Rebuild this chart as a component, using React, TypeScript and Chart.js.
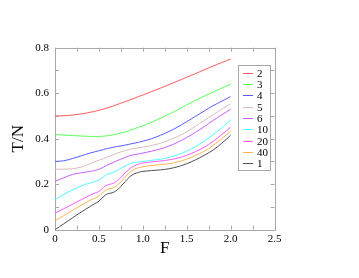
import React, { useEffect, useRef } from 'react';
import { Chart, registerables } from 'chart.js';
Chart.register(...registerables);

const F = [0, 0.1, 0.2, 0.3, 0.35, 0.4, 0.45, 0.5, 0.55, 0.6, 0.65, 0.7, 0.75, 0.8, 0.85, 0.9, 0.95, 1.0, 1.1, 1.2, 1.3, 1.4, 1.5, 1.6, 1.7, 1.8, 1.9, 2.0];

const seriesLabels = ['2', '3', '4', '5', '6', '10', '20', '40', '1'];

const s2 = [0.5, 0.501, 0.504, 0.509, 0.512, 0.516, 0.52, 0.525, 0.53, 0.536, 0.542, 0.549, 0.556, 0.563, 0.57, 0.577, 0.585, 0.592, 0.607, 0.622, 0.638, 0.654, 0.67, 0.686, 0.703, 0.719, 0.735, 0.75];
const s3 = [0.418, 0.416, 0.414, 0.412, 0.411, 0.41, 0.41, 0.41, 0.411, 0.413, 0.416, 0.42, 0.425, 0.43, 0.436, 0.443, 0.45, 0.457, 0.472, 0.49, 0.508, 0.528, 0.548, 0.568, 0.587, 0.605, 0.622, 0.64];
const s4 = [0.3, 0.303, 0.313, 0.325, 0.331, 0.337, 0.342, 0.347, 0.352, 0.357, 0.361, 0.365, 0.368, 0.372, 0.376, 0.38, 0.384, 0.389, 0.4, 0.415, 0.432, 0.452, 0.475, 0.498, 0.522, 0.545, 0.565, 0.585];
const s5 = [0.266, 0.266, 0.268, 0.275, 0.282, 0.29, 0.298, 0.305, 0.312, 0.32, 0.328, 0.335, 0.342, 0.348, 0.353, 0.357, 0.36, 0.363, 0.37, 0.38, 0.395, 0.41, 0.43, 0.455, 0.48, 0.505, 0.53, 0.553];
const s6 = [0.213, 0.228, 0.243, 0.25, 0.253, 0.256, 0.26, 0.265, 0.275, 0.285, 0.293, 0.302, 0.31, 0.318, 0.325, 0.33, 0.333, 0.337, 0.345, 0.355, 0.368, 0.385, 0.405, 0.428, 0.453, 0.48, 0.505, 0.53];
const s10 = [0.132, 0.155, 0.175, 0.192, 0.2, 0.205, 0.212, 0.218, 0.232, 0.244, 0.25, 0.258, 0.27, 0.28, 0.29, 0.295, 0.298, 0.3, 0.305, 0.31, 0.318, 0.33, 0.345, 0.365, 0.39, 0.417, 0.448, 0.483];
const s20 = [0.073, 0.092, 0.112, 0.132, 0.142, 0.152, 0.16, 0.168, 0.185, 0.197, 0.202, 0.212, 0.23, 0.25, 0.268, 0.28, 0.288, 0.293, 0.298, 0.302, 0.307, 0.315, 0.327, 0.343, 0.363, 0.388, 0.418, 0.45];
const s40 = [0.04, 0.062, 0.085, 0.108, 0.118, 0.13, 0.138, 0.148, 0.165, 0.178, 0.182, 0.192, 0.21, 0.232, 0.252, 0.265, 0.272, 0.277, 0.282, 0.286, 0.29, 0.298, 0.31, 0.326, 0.345, 0.37, 0.4, 0.433];
const s1 = [0, 0.026, 0.052, 0.078, 0.09, 0.102, 0.114, 0.125, 0.145, 0.158, 0.162, 0.172, 0.19, 0.212, 0.232, 0.245, 0.252, 0.256, 0.26, 0.263, 0.268, 0.277, 0.29, 0.307, 0.327, 0.35, 0.38, 0.415];

const colors = ['#ff5a5a', '#5aff5a', '#5a5aff', '#dcbcbc', '#c860ff', '#50ffff', '#ff5aff', '#ffb450', '#505050'];

const xTickValues = [0, 0.25, 0.5, 0.75, 1, 1.25, 1.5, 1.75, 2, 2.25, 2.5];
const yTickValues = [0, 0.1, 0.2, 0.3, 0.4, 0.5, 0.6, 0.7, 0.8];

const SERIF = "'Liberation Serif', 'Times New Roman', serif";
const FRAME = '#a8a8a8';

const framePlugin = {
  id: 'frame',
  beforeDatasetsDraw(chart: any) {
    const { ctx, chartArea: a, scales } = chart;
    ctx.save();
    ctx.strokeStyle = FRAME;
    ctx.lineWidth = 1;
    ctx.strokeRect(Math.round(a.left) + 0.5, Math.round(a.top) + 0.5, Math.round(a.right - a.left), Math.round(a.bottom - a.top));
    ctx.beginPath();
    const L = 4;
    xTickValues.forEach((v) => {
      const px = Math.round(scales.x.getPixelForValue(v)) + 0.5;
      ctx.moveTo(px, a.bottom); ctx.lineTo(px, a.bottom - L);
      ctx.moveTo(px, a.top); ctx.lineTo(px, a.top + L);
    });
    yTickValues.forEach((v) => {
      const py = Math.round(scales.y.getPixelForValue(v)) + 0.5;
      ctx.moveTo(a.left, py); ctx.lineTo(a.left + L, py);
      ctx.moveTo(a.right, py); ctx.lineTo(a.right - L, py);
    });
    ctx.stroke();
    ctx.restore();
  },
};

const legendPlugin = {
  id: 'boxLegend',
  afterDraw(chart: any) {
    const ctx = chart.ctx;
    ctx.save();
    const x0 = 238.5, y0 = 65.5, w = 32, h = 105;
    ctx.fillStyle = '#fff';
    ctx.fillRect(x0, y0, w, h);
    ctx.strokeStyle = FRAME;
    ctx.lineWidth = 1;
    ctx.strokeRect(x0, y0, w, h);
    ctx.font = `11px ${SERIF}`;
    ctx.textBaseline = 'middle';
    ctx.textAlign = 'left';
    chart.data.datasets.forEach((ds: any, i: number) => {
      const y = Math.round(72.7 + i * 11.3) + 0.5;
      ctx.strokeStyle = ds.borderColor;
      ctx.beginPath();
      ctx.moveTo(243, y);
      ctx.lineTo(253, y);
      ctx.stroke();
      ctx.fillStyle = '#000';
      ctx.fillText(ds.label, 257, y + 0.5);
    });
    ctx.restore();
  },
};

export default function App() {
  const ref = useRef<HTMLCanvasElement>(null);
  useEffect(() => {
    const series = [s2, s3, s4, s5, s6, s10, s20, s40, s1];
    const chart = new Chart(ref.current!, {
      type: 'line',
      data: {
        datasets: series.map((s, i) => ({
          label: seriesLabels[i],
          data: s.map((y, j) => ({ x: F[j], y })),
          borderColor: colors[i],
          borderWidth: 1,
          pointRadius: 0,
          tension: 0.35,
          fill: false,
        })),
      },
      options: {
        responsive: false,
        animation: false,
        devicePixelRatio: 1,
        layout: { padding: { left: 0, right: 84.5, top: 47.7, bottom: 0 } },
        plugins: { legend: { display: false }, tooltip: { enabled: false } },
        scales: {
          x: {
            type: 'linear',
            min: 0,
            max: 2.5,
            ticks: { stepSize: 0.5, padding: 3, color: '#000', maxRotation: 0, font: { family: SERIF, size: 11 } },
            grid: { display: false, drawTicks: false },
            border: { display: false },
            title: { display: true, text: 'F', color: '#000', font: { family: SERIF, size: 17 }, padding: { top: 0, bottom: 19 } },
            afterFit(s: any) { s.height = 48.3; },
          },
          y: {
            type: 'linear',
            min: 0,
            max: 0.8,
            ticks: { stepSize: 0.2, padding: 6, color: '#000', font: { family: SERIF, size: 11 } },
            grid: { display: false, drawTicks: false },
            border: { display: false },
            title: { display: true, text: 'T/N', color: '#000', font: { family: SERIF, size: 17 }, padding: { top: 8, bottom: 0 } },
            afterFit(s: any) { s.width = 55; },
          },
        },
      },
      plugins: [framePlugin, legendPlugin],
    } as any);
    return () => chart.destroy();
  }, []);
  return (
    <div style={{ position: 'absolute', left: 0, top: 0, width: 359, height: 278, background: '#fff' }}>
      <canvas ref={ref} width={359} height={278} style={{ display: 'block' }} />
    </div>
  );
}
